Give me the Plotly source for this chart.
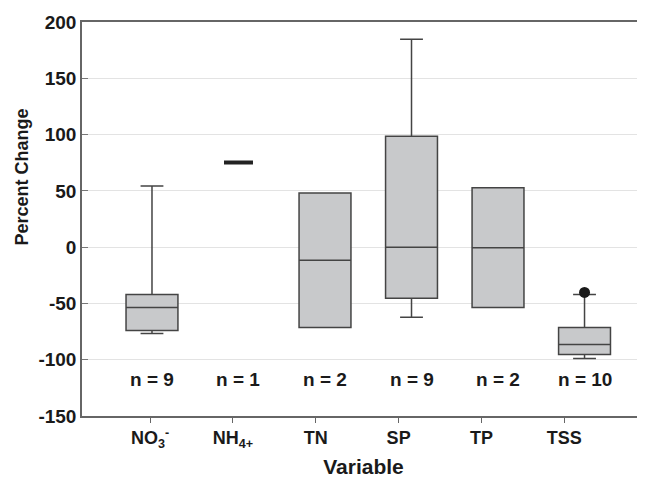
import plotly.graph_objects as go

# ---- data ----
categories = ["NO3", "NH4", "TN", "SP", "TP", "TSS"]
tick_labels = ["NO<sub>3</sub><sup>-</sup>", "NH<sub>4+</sub>", "TN", "SP", "TP", "TSS"]
lower_whisker = [-76.7, 75.2, -71.4, -62.3, -53.6, -99.0]
q1_values = [-74.0, 75.2, -71.4, -45.4, -53.6, -95.4]
median_values = [-53.6, 75.2, -11.6, 0.0, -0.5, -86.5]
q3_values = [-42.0, 75.2, 48.2, 98.4, 52.7, -71.4]
upper_whisker = [54.4, 75.2, 48.2, 184.7, 52.7, -42.0]
n_counts = [9, 1, 2, 9, 2, 10]
outlier_category = ["TSS"]
outlier_values = [-40.2]

# ---- style / layout constants ----
FONT = "Liberation Sans, Arial, sans-serif"
TXT = "#1a1a1a"
BOX_FILL = "#c8c9cb"
BOX_LINE = "#444444"
BOX_WIDTH = 0.60
TICK_START = 0.977
TICK_STEP = 0.958
N_LABEL_Y = -117.5

fig = go.Figure()

for i, cat in enumerate(categories):
    pos = i + 1
    single = q1_values[i] == q3_values[i]
    fig.add_trace(go.Box(
        x=[pos],
        q1=[q1_values[i]], median=[median_values[i]], q3=[q3_values[i]],
        lowerfence=[lower_whisker[i]], upperfence=[upper_whisker[i]],
        width=0.335 if single else BOX_WIDTH,
        whiskerwidth=0.44,
        fillcolor="#222222" if single else BOX_FILL,
        line=dict(color="#222222" if single else BOX_LINE, width=4 if single else 1.5),
        boxpoints=False,
        showlegend=False,
        hoverinfo="skip",
    ))

# outlier point(s)
fig.add_trace(go.Scatter(
    x=[categories.index(c) + 1 for c in outlier_category],
    y=outlier_values,
    mode="markers",
    marker=dict(color="#1a1a1a", size=11),
    showlegend=False,
    hoverinfo="skip",
))

# n labels
for i, n in enumerate(n_counts):
    fig.add_annotation(
        x=i + 1, y=N_LABEL_Y, text=f"<b>n = {n}</b>", showarrow=False,
        font=dict(family=FONT, size=19, color=TXT),
    )

# y-axis title (sits above the axis centre, as in the reference)
fig.add_annotation(
    xref="paper", yref="paper", x=-0.107, y=0.607,
    xanchor="center", yanchor="middle", textangle=-90,
    text="<b>Percent Change</b>", showarrow=False,
    font=dict(family=FONT, size=18, color=TXT),
)

fig.update_layout(
    width=637, height=470,
    margin=dict(l=74, r=0, t=14, b=62),
    paper_bgcolor="white", plot_bgcolor="white",
    font=dict(family=FONT, size=18, color=TXT),
)

fig.update_xaxes(
    range=[0.191, 6.699],
    tickmode="array",
    tickvals=[TICK_START + TICK_STEP * i for i in range(len(categories))],
    ticktext=[f"<b>{t}</b>" for t in tick_labels],
    ticks="outside", ticklen=5, tickwidth=1, tickcolor="#666666",
    showline=True, linecolor="#666666", linewidth=1.5, mirror=True,
    showgrid=False, zeroline=False,
    tickfont=dict(family=FONT, size=18, color=TXT),
    title=dict(text="<b>Variable</b>", font=dict(family=FONT, size=21, color=TXT), standoff=9),
)

fig.update_yaxes(
    range=[-150, 200],
    tickmode="array",
    tickvals=[-150, -100, -50, 0, 50, 100, 150, 200],
    ticktext=[f"<b>{v}</b>" for v in [-150, -100, -50, 0, 50, 100, 150, 200]],
    ticks="inside", ticklen=6, tickwidth=1, tickcolor="#777777",
    showline=True, linecolor="#666666", linewidth=1.5,
    showgrid=True, gridcolor="#e3e3e3", gridwidth=1,
    zeroline=False,
    tickfont=dict(family=FONT, size=19, color=TXT),
)

fig.write_html("out.html")
